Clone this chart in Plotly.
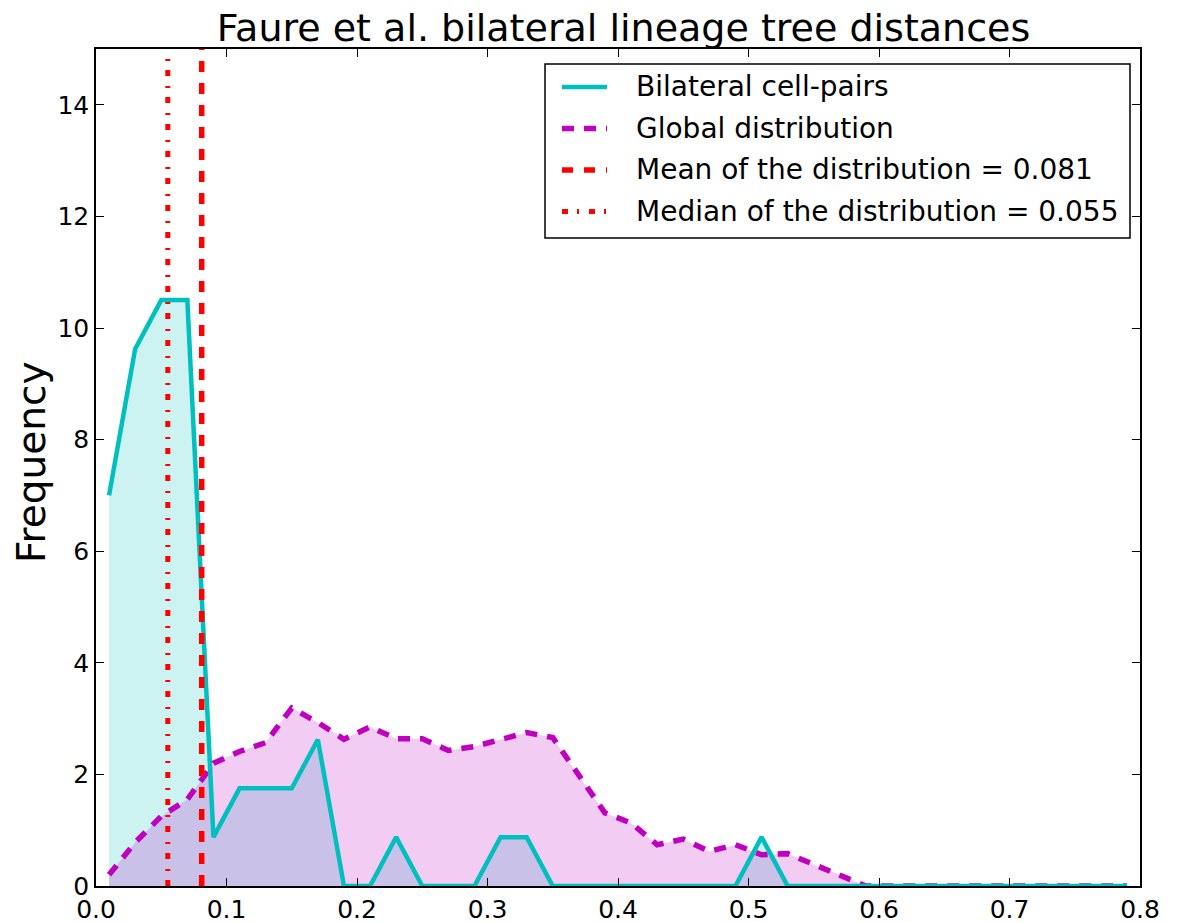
import plotly.graph_objects as go

# Bin centres (bin width 0.02)
bin_centers = [round(0.01 + 0.02 * i, 2) for i in range(40)]

# Density of tree distances for bilateral cell-pairs
bilateral_freq = [7.0, 9.625, 10.5, 10.5, 0.875, 1.75, 1.75, 1.75, 2.625, 0.0,
                  0.0, 0.875, 0.0, 0.0, 0.0, 0.875, 0.875, 0.0, 0.0, 0.0,
                  0.0, 0.0, 0.0, 0.0, 0.0, 0.875, 0.0, 0.0, 0.0, 0.0,
                  0.0, 0.0, 0.0, 0.0, 0.0, 0.0, 0.0, 0.0, 0.0, 0.0]

# Density of tree distances over all cell-pairs
global_freq = [0.2, 0.78, 1.25, 1.55, 2.2, 2.41, 2.57, 3.19, 2.93, 2.63,
               2.85, 2.64, 2.64, 2.43, 2.5, 2.63, 2.75, 2.66, 1.97, 1.31,
               1.13, 0.74, 0.84, 0.62, 0.74, 0.56, 0.58, 0.38, 0.2, 0.0,
               0.0, 0.0, 0.0, 0.0, 0.0, 0.0, 0.0, 0.0, 0.0, 0.0]

mean_value = 0.081
median_value = 0.055
y_max = 15

legend_labels = [
    "Bilateral cell-pairs",
    "Global distribution",
    "Mean of the distribution = %.3f" % mean_value,
    "Median of the distribution = %.3f" % median_value,
]

CYAN = "#00bfbf"
MAGENTA = "#bf00bf"
RED = "#ff0000"

W, H = 1178, 922
PLOT_L, PLOT_R, PLOT_T, PLOT_B = 96, 1140, 49, 886

styles = [
    dict(color=CYAN, width=4.5, dash="solid"),
    dict(color=MAGENTA, width=5.5, dash="12px,10px"),
    dict(color=RED, width=5.5, dash="11px,11px"),
    dict(color=RED, width=5, dash="6px,9px,2px,10px"),
]


def px_x(p):
    return (p - PLOT_L) / (PLOT_R - PLOT_L)


def px_y(p):
    return (PLOT_B - p) / (PLOT_B - PLOT_T)


fig = go.Figure()

# Shaded areas first, outlines on top
fig.add_trace(go.Scatter(
    x=bin_centers, y=bilateral_freq, mode="lines", line=dict(width=0),
    fill="tozeroy", fillcolor="rgba(0,191,191,0.2)", hoverinfo="skip",
    showlegend=False,
))
fig.add_trace(go.Scatter(
    x=bin_centers, y=global_freq, mode="lines", line=dict(width=0),
    fill="tozeroy", fillcolor="rgba(191,0,191,0.2)", hoverinfo="skip",
    showlegend=False,
))
fig.add_trace(go.Scatter(
    x=bin_centers, y=global_freq, mode="lines", name=legend_labels[1],
    line=styles[1],
))
fig.add_trace(go.Scatter(
    x=bin_centers, y=bilateral_freq, mode="lines", name=legend_labels[0],
    line=styles[0],
))
fig.add_trace(go.Scatter(
    x=[mean_value, mean_value], y=[0, y_max], mode="lines",
    name=legend_labels[2], line=styles[2],
))
fig.add_trace(go.Scatter(
    x=[median_value, median_value], y=[0, y_max], mode="lines",
    name=legend_labels[3], line=styles[3],
))

# Boxed legend in the upper right corner
shapes = [dict(
    type="rect", xref="paper", yref="paper",
    x0=px_x(545), x1=px_x(1130), y0=px_y(238), y1=px_y(64),
    fillcolor="white", line=dict(color="black", width=1.5), layer="above",
)]
annotations = []
row_y = [87, 128.5, 170, 211.5]
for label, style, ry in zip(legend_labels, styles, row_y):
    shapes.append(dict(
        type="line", xref="paper", yref="paper",
        x0=px_x(562), x1=px_x(607), y0=px_y(ry), y1=px_y(ry),
        line=style, layer="above",
    ))
    annotations.append(dict(
        text=label, xref="paper", yref="paper", x=px_x(634), y=px_y(ry),
        xanchor="left", yanchor="middle", showarrow=False,
        font=dict(family="DejaVu Sans", size=28, color="black"),
    ))

# Y-axis label
annotations.append(dict(
    text="Frequency", xref="paper", yref="paper", x=px_x(31), y=px_y(463),
    xanchor="center", yanchor="middle", textangle=-90, showarrow=False,
    font=dict(family="DejaVu Sans", size=39, color="black"),
))

axis_common = dict(
    showgrid=False, zeroline=False, showline=True, linecolor="black",
    linewidth=1.5, mirror="ticks", ticks="inside", ticklen=8,
    tickcolor="black", tickwidth=1, automargin=False,
    tickfont=dict(family="DejaVu Sans", size=25, color="black"),
)

fig.update_layout(
    width=W, height=H,
    margin=dict(l=PLOT_L, r=W - PLOT_R, t=PLOT_T, b=H - PLOT_B),
    paper_bgcolor="white", plot_bgcolor="white",
    showlegend=False,
    title=dict(
        text="Faure et al. bilateral lineage tree distances",
        font=dict(family="DejaVu Sans", size=38, color="black"),
        x=623.5 / W, xanchor="center",
        y=1 - 28 / H, yanchor="middle",
    ),
    xaxis=dict(range=[0, 0.8], tickvals=[0, 0.1, 0.2, 0.3, 0.4, 0.5, 0.6, 0.7, 0.8],
               tickformat=".1f", **axis_common),
    yaxis=dict(range=[0, y_max], tickvals=list(range(0, 15, 2)), **axis_common),
    shapes=shapes,
    annotations=annotations,
)

fig.write_html("out.html")
